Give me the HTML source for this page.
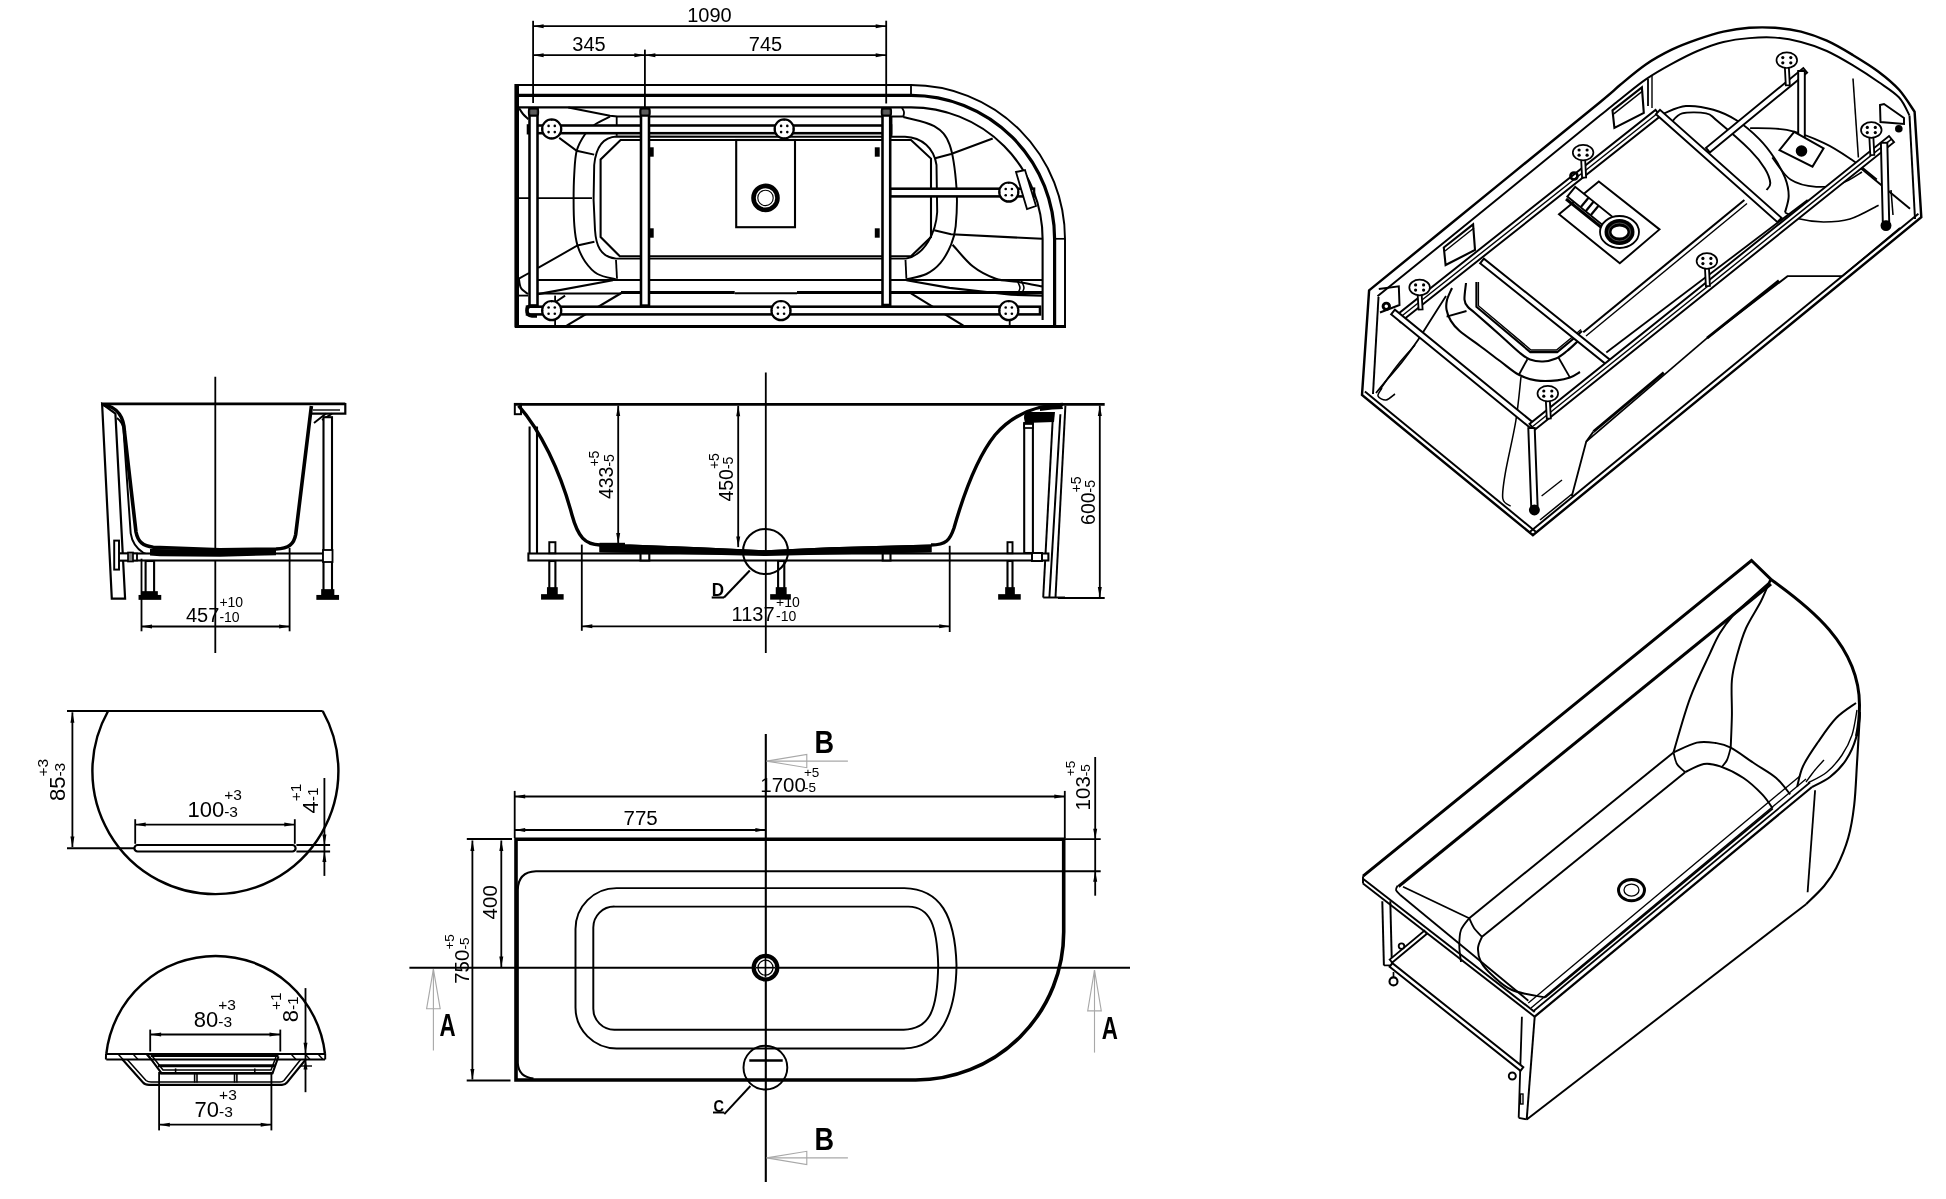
<!DOCTYPE html>
<html><head><meta charset="utf-8"><style>
html,body{margin:0;padding:0;background:#fff;width:1946px;height:1199px;overflow:hidden}
svg{display:block;will-change:transform}
</style></head><body>
<svg width="1946" height="1199" viewBox="0 0 1946 1199">
<rect width="1946" height="1199" fill="#fff"/>
<line x1="533.1" y1="20.8" x2="533.1" y2="103.0" stroke="#000" stroke-width="1.82" />
<line x1="644.9" y1="49.6" x2="644.9" y2="107.0" stroke="#000" stroke-width="1.82" />
<line x1="886.2" y1="20.7" x2="886.2" y2="103.5" stroke="#000" stroke-width="1.82" />
<line x1="533.1" y1="26.2" x2="886.2" y2="26.2" stroke="#000" stroke-width="1.82" />
<polygon points="533.1,26.2 543.6,24.2 543.6,28.2" fill="#000"/>
<polygon points="886.2,26.2 875.7,28.2 875.7,24.2" fill="#000"/>
<line x1="533.1" y1="55.2" x2="644.9" y2="55.2" stroke="#000" stroke-width="1.82" />
<polygon points="533.1,55.2 543.6,53.2 543.6,57.2" fill="#000"/>
<polygon points="644.9,55.2 634.4,57.2 634.4,53.2" fill="#000"/>
<line x1="644.9" y1="55.2" x2="886.2" y2="55.2" stroke="#000" stroke-width="1.82" />
<polygon points="644.9,55.2 655.4,53.2 655.4,57.2" fill="#000"/>
<polygon points="886.2,55.2 875.7,57.2 875.7,53.2" fill="#000"/>
<text x="709.5" y="21.5" font-family="Liberation Sans" font-size="20" font-weight="normal" text-anchor="middle" >1090</text>
<text x="589.0" y="50.6" font-family="Liberation Sans" font-size="20" font-weight="normal" text-anchor="middle" >345</text>
<text x="765.5" y="50.6" font-family="Liberation Sans" font-size="20" font-weight="normal" text-anchor="middle" >745</text>
<path d="M516,85 L911,85 A154,154 0 0 1 1065,239 L1065,326.5" stroke="#000" stroke-width="1.95" fill="none" />
<path d="M516,95.4 L911,95.4 A143.6,143.6 0 0 1 1054.6,239 L1054.6,326.5" stroke="#000" stroke-width="3.2" fill="none" />
<path d="M516,107.4 L911,107.4 A131.6,131.6 0 0 1 1042.6,239 L1042.6,320" stroke="#000" stroke-width="2.1" fill="none" />
<line x1="516.7" y1="84.0" x2="516.7" y2="327.5" stroke="#000" stroke-width="4.6" />
<line x1="515.0" y1="326.5" x2="1066.0" y2="326.5" stroke="#000" stroke-width="3.2" />
<line x1="911.0" y1="85.0" x2="911.0" y2="95.4" stroke="#000" stroke-width="1.82" />
<line x1="1054.5" y1="238.8" x2="1065.0" y2="238.8" stroke="#000" stroke-width="1.68" />
<path d="M610.0,116.7 C607.5,118.0 599.2,121.6 595.0,124.5 C590.8,127.4 588.0,129.8 585.0,134.2 C582.0,138.6 578.5,144.0 576.7,150.8 C574.9,157.6 574.7,166.8 574.2,175.0 C573.7,183.2 573.6,191.5 573.6,200.0 C573.6,208.5 573.8,218.6 574.4,226.2 C575.0,233.8 575.7,239.6 577.5,245.5 C579.3,251.4 581.9,256.9 585.2,261.7 C588.5,266.4 592.4,271.1 597.5,274.0 C602.6,276.9 612.9,278.5 616.0,279.4" stroke="#000" stroke-width="1.95" fill="none" />
<path d="M903.3,117.0 C908.4,118.5 926.5,121.6 934.2,126.2 C941.9,130.8 945.9,134.4 949.6,144.7 C953.3,155.0 955.5,174.3 956.5,187.9 C957.5,201.5 956.6,216.7 955.7,226.2 C954.8,235.7 953.7,238.5 951.1,244.7 C948.5,250.9 944.4,258.3 940.3,263.2 C936.2,268.1 932.0,271.3 926.4,274.0 C920.8,276.7 909.7,278.5 906.4,279.4" stroke="#000" stroke-width="1.95" fill="none" />
<path d="M616.7,136.5 L905,136.8 C922,137.5 934,148 936.5,165 L937.2,212 C936,232 925,255 906,258.6 L616,258.6 C600,257 596,245 595,230 L593.6,200 L594.2,165 C596,146 604,137 616.7,136.5 Z" stroke="#000" stroke-width="1.95" fill="none" />
<path d="M620.6,140 L911,140 L931,158.6 L931,237 L911,256.3 L619.8,256.3 L600.6,237 L600.6,159.4 Z" stroke="#000" stroke-width="2.1" fill="none" />
<path d="M568.3,107.5 L610.0,115.8 L617.5,116.5 L903.0,116.5" stroke="#000" stroke-width="2.1" fill="none" />
<line x1="616.7" y1="116.7" x2="616.7" y2="135.8" stroke="#000" stroke-width="1.82" />
<line x1="891.5" y1="116.7" x2="891.5" y2="136.5" stroke="#000" stroke-width="1.82" />
<path d="M519.2,108.3 C519.8,109.2 521.5,112.2 523.0,114.0 C524.5,115.8 527.4,118.3 528.3,119.2" stroke="#000" stroke-width="1.96" fill="none" />
<path d="M901.8,107.4 C902.2,108.2 903.8,110.4 904.0,112.0 C904.2,113.6 903.4,116.2 903.3,117.0" stroke="#000" stroke-width="1.82" fill="none" />
<path d="M559.2,137.9 L576.7,150.8 L594.2,154.6" stroke="#000" stroke-width="1.95" fill="none" />
<path d="M594.4,241.7 L577.5,245.5 L538.1,267.9" stroke="#000" stroke-width="1.95" fill="none" />
<line x1="518.9" y1="278.7" x2="529.0" y2="273.0" stroke="#000" stroke-width="1.96" />
<path d="M934.2,158.6 L951.1,154.0 L992.7,138.6" stroke="#000" stroke-width="2.1" fill="none" />
<path d="M934.2,230.3 L951.1,234.2 L1042.0,238.8" stroke="#000" stroke-width="2.1" fill="none" />
<path d="M952.6,244.7 C956.0,248.3 965.5,260.6 972.7,266.3 C979.9,272.0 988.3,276.1 995.8,278.7 C1003.2,281.3 1009.7,280.4 1017.4,281.7 C1025.1,283.0 1037.9,285.6 1042.0,286.4" stroke="#000" stroke-width="2.1" fill="none" />
<path d="M906.4,280.2 L949.6,287.9 L1011.2,294.8 L1042.0,295.6" stroke="#000" stroke-width="2.1" fill="none" />
<line x1="612.9" y1="280.2" x2="538.1" y2="294.1" stroke="#000" stroke-width="2.1" />
<path d="M518.9,278.7 C519.2,280.2 519.5,285.4 521.0,288.0 C522.5,290.6 526.9,293.1 528.1,294.1" stroke="#000" stroke-width="1.96" fill="none" />
<line x1="518.9" y1="295.6" x2="528.0" y2="295.6" stroke="#000" stroke-width="1.82" />
<line x1="616.0" y1="260.0" x2="617.0" y2="278.7" stroke="#000" stroke-width="1.82" />
<line x1="905.5" y1="260.0" x2="906.4" y2="278.7" stroke="#000" stroke-width="1.82" />
<line x1="518.9" y1="198.2" x2="592.0" y2="198.2" stroke="#000" stroke-width="1.82" />
<line x1="537.0" y1="279.9" x2="1042.0" y2="279.9" stroke="#000" stroke-width="1.96" />
<line x1="621.0" y1="292.5" x2="734.7" y2="292.5" stroke="#000" stroke-width="3.0" />
<line x1="797.0" y1="292.5" x2="1042.0" y2="292.5" stroke="#000" stroke-width="3.0" />
<line x1="537.0" y1="293.5" x2="621.0" y2="293.5" stroke="#000" stroke-width="1.96" />
<line x1="734.7" y1="293.3" x2="797.0" y2="293.3" stroke="#000" stroke-width="1.96" />
<line x1="555.9" y1="301.8" x2="565.1" y2="295.6" stroke="#000" stroke-width="1.96" />
<line x1="566.7" y1="325.7" x2="622.2" y2="292.5" stroke="#000" stroke-width="2.1" />
<line x1="555.1" y1="295.6" x2="555.1" y2="326.4" stroke="#000" stroke-width="1.82" />
<line x1="911.0" y1="293.3" x2="963.4" y2="325.7" stroke="#000" stroke-width="2.1" />
<line x1="1009.7" y1="318.7" x2="1009.7" y2="326.4" stroke="#000" stroke-width="1.82" />
<path d="M1017.4,281.0 C1017.8,282.2 1020.1,285.8 1020.0,288.0 C1019.9,290.2 1017.5,293.4 1017.0,294.5" stroke="#000" stroke-width="1.54" fill="none" />
<path d="M1021.5,281.0 C1021.9,282.2 1024.1,285.8 1024.0,288.0 C1023.9,290.2 1021.5,293.4 1021.0,294.5" stroke="#000" stroke-width="1.54" fill="none" />
<rect x="736.2" y="140.0" width="58.8" height="87.2" rx="0" stroke="#000" stroke-width="2.1" fill="#fff"/>
<circle cx="765.5" cy="197.9" r="12.0" stroke="#000" stroke-width="4.6" fill="#fff"/>
<circle cx="765.5" cy="197.9" r="7.7" stroke="#000" stroke-width="1.12" fill="none"/>
<rect x="528.0" y="125.5" width="363.0" height="7.7" rx="0" stroke="#000" stroke-width="2.56" fill="#fff"/>
<rect x="890.0" y="188.7" width="144.0" height="7.7" rx="0" stroke="#000" stroke-width="2.56" fill="#fff"/>
<rect x="527.0" y="306.7" width="513.0" height="7.7" rx="0" stroke="#000" stroke-width="2.56" fill="#fff"/>
<rect x="529.5" y="108.5" width="8.0" height="197.5" rx="0" stroke="#000" stroke-width="2.56" fill="#fff"/>
<rect x="641.0" y="108.5" width="8.0" height="197.1" rx="0" stroke="#000" stroke-width="2.56" fill="#fff"/>
<rect x="882.5" y="108.5" width="7.7" height="196.5" rx="0" stroke="#000" stroke-width="2.56" fill="#fff"/>
<rect x="528.7" y="108.3" width="9.6" height="7.5" rx="2.5" stroke="#000" stroke-width="1.68" fill="#333"/>
<line x1="530.5" y1="111.0" x2="536.5" y2="111.0" stroke="#999" stroke-width="0.84" />
<line x1="530.5" y1="113.0" x2="536.5" y2="113.0" stroke="#999" stroke-width="0.84" />
<rect x="640.2" y="108.3" width="9.6" height="7.5" rx="2.5" stroke="#000" stroke-width="1.68" fill="#333"/>
<line x1="642.0" y1="111.0" x2="648.0" y2="111.0" stroke="#999" stroke-width="0.84" />
<line x1="642.0" y1="113.0" x2="648.0" y2="113.0" stroke="#999" stroke-width="0.84" />
<rect x="881.6" y="108.3" width="9.6" height="7.5" rx="2.5" stroke="#000" stroke-width="1.68" fill="#333"/>
<line x1="883.4" y1="111.0" x2="889.4" y2="111.0" stroke="#999" stroke-width="0.84" />
<line x1="883.4" y1="113.0" x2="889.4" y2="113.0" stroke="#999" stroke-width="0.84" />
<rect x="649.5" y="148.0" width="3.5" height="8.0" rx="0" stroke="#000" stroke-width="1.4" fill="#000"/>
<rect x="649.5" y="229.0" width="3.5" height="8.0" rx="0" stroke="#000" stroke-width="1.4" fill="#000"/>
<rect x="875.5" y="148.0" width="3.5" height="8.0" rx="0" stroke="#000" stroke-width="1.4" fill="#000"/>
<rect x="875.5" y="229.0" width="3.5" height="8.0" rx="0" stroke="#000" stroke-width="1.4" fill="#000"/>
<circle cx="551.7" cy="129.0" r="9.6" stroke="#000" stroke-width="2.2" fill="#fff"/>
<circle cx="554.8" cy="132.1" r="1.3" stroke="#000" stroke-width="0" fill="#000"/>
<circle cx="548.6" cy="132.1" r="1.3" stroke="#000" stroke-width="0" fill="#000"/>
<circle cx="548.6" cy="125.9" r="1.3" stroke="#000" stroke-width="0" fill="#000"/>
<circle cx="554.8" cy="125.9" r="1.3" stroke="#000" stroke-width="0" fill="#000"/>
<circle cx="560.8" cy="129.0" r="0.9" stroke="#000" stroke-width="0" fill="#000"/>
<circle cx="551.7" cy="138.1" r="0.9" stroke="#000" stroke-width="0" fill="#000"/>
<circle cx="542.6" cy="129.0" r="0.9" stroke="#000" stroke-width="0" fill="#000"/>
<circle cx="551.7" cy="119.9" r="0.9" stroke="#000" stroke-width="0" fill="#000"/>
<circle cx="784.2" cy="129.0" r="9.6" stroke="#000" stroke-width="2.2" fill="#fff"/>
<circle cx="787.3" cy="132.1" r="1.3" stroke="#000" stroke-width="0" fill="#000"/>
<circle cx="781.1" cy="132.1" r="1.3" stroke="#000" stroke-width="0" fill="#000"/>
<circle cx="781.1" cy="125.9" r="1.3" stroke="#000" stroke-width="0" fill="#000"/>
<circle cx="787.3" cy="125.9" r="1.3" stroke="#000" stroke-width="0" fill="#000"/>
<circle cx="793.3" cy="129.0" r="0.9" stroke="#000" stroke-width="0" fill="#000"/>
<circle cx="784.2" cy="138.1" r="0.9" stroke="#000" stroke-width="0" fill="#000"/>
<circle cx="775.1" cy="129.0" r="0.9" stroke="#000" stroke-width="0" fill="#000"/>
<circle cx="784.2" cy="119.9" r="0.9" stroke="#000" stroke-width="0" fill="#000"/>
<circle cx="551.7" cy="310.6" r="9.6" stroke="#000" stroke-width="2.2" fill="#fff"/>
<circle cx="554.8" cy="313.7" r="1.3" stroke="#000" stroke-width="0" fill="#000"/>
<circle cx="548.6" cy="313.7" r="1.3" stroke="#000" stroke-width="0" fill="#000"/>
<circle cx="548.6" cy="307.5" r="1.3" stroke="#000" stroke-width="0" fill="#000"/>
<circle cx="554.8" cy="307.5" r="1.3" stroke="#000" stroke-width="0" fill="#000"/>
<circle cx="560.8" cy="310.6" r="0.9" stroke="#000" stroke-width="0" fill="#000"/>
<circle cx="551.7" cy="319.7" r="0.9" stroke="#000" stroke-width="0" fill="#000"/>
<circle cx="542.6" cy="310.6" r="0.9" stroke="#000" stroke-width="0" fill="#000"/>
<circle cx="551.7" cy="301.5" r="0.9" stroke="#000" stroke-width="0" fill="#000"/>
<circle cx="781.0" cy="310.6" r="9.6" stroke="#000" stroke-width="2.2" fill="#fff"/>
<circle cx="784.1" cy="313.7" r="1.3" stroke="#000" stroke-width="0" fill="#000"/>
<circle cx="777.9" cy="313.7" r="1.3" stroke="#000" stroke-width="0" fill="#000"/>
<circle cx="777.9" cy="307.5" r="1.3" stroke="#000" stroke-width="0" fill="#000"/>
<circle cx="784.1" cy="307.5" r="1.3" stroke="#000" stroke-width="0" fill="#000"/>
<circle cx="790.1" cy="310.6" r="0.9" stroke="#000" stroke-width="0" fill="#000"/>
<circle cx="781.0" cy="319.7" r="0.9" stroke="#000" stroke-width="0" fill="#000"/>
<circle cx="771.9" cy="310.6" r="0.9" stroke="#000" stroke-width="0" fill="#000"/>
<circle cx="781.0" cy="301.5" r="0.9" stroke="#000" stroke-width="0" fill="#000"/>
<circle cx="1008.8" cy="310.6" r="9.6" stroke="#000" stroke-width="2.2" fill="#fff"/>
<circle cx="1011.9" cy="313.7" r="1.3" stroke="#000" stroke-width="0" fill="#000"/>
<circle cx="1005.7" cy="313.7" r="1.3" stroke="#000" stroke-width="0" fill="#000"/>
<circle cx="1005.7" cy="307.5" r="1.3" stroke="#000" stroke-width="0" fill="#000"/>
<circle cx="1011.9" cy="307.5" r="1.3" stroke="#000" stroke-width="0" fill="#000"/>
<circle cx="1017.9" cy="310.6" r="0.9" stroke="#000" stroke-width="0" fill="#000"/>
<circle cx="1008.8" cy="319.7" r="0.9" stroke="#000" stroke-width="0" fill="#000"/>
<circle cx="999.7" cy="310.6" r="0.9" stroke="#000" stroke-width="0" fill="#000"/>
<circle cx="1008.8" cy="301.5" r="0.9" stroke="#000" stroke-width="0" fill="#000"/>
<circle cx="1008.8" cy="192.1" r="9.6" stroke="#000" stroke-width="2.2" fill="#fff"/>
<circle cx="1011.9" cy="195.2" r="1.3" stroke="#000" stroke-width="0" fill="#000"/>
<circle cx="1005.7" cy="195.2" r="1.3" stroke="#000" stroke-width="0" fill="#000"/>
<circle cx="1005.7" cy="189.0" r="1.3" stroke="#000" stroke-width="0" fill="#000"/>
<circle cx="1011.9" cy="189.0" r="1.3" stroke="#000" stroke-width="0" fill="#000"/>
<circle cx="1017.9" cy="192.1" r="0.9" stroke="#000" stroke-width="0" fill="#000"/>
<circle cx="1008.8" cy="201.2" r="0.9" stroke="#000" stroke-width="0" fill="#000"/>
<circle cx="999.7" cy="192.1" r="0.9" stroke="#000" stroke-width="0" fill="#000"/>
<circle cx="1008.8" cy="183.0" r="0.9" stroke="#000" stroke-width="0" fill="#000"/>
<path d="M1016,172 L1025,170 L1036,206 L1027,209 Z" stroke="#000" stroke-width="1.82" fill="#fff" />
<path d="M537,306 L531,306 Q527,306 527,310.5 Q527,315.5 532,316 L537,316" stroke="#000" stroke-width="3.6" fill="none" />
<line x1="215.3" y1="376.8" x2="215.3" y2="653.0" stroke="#000" stroke-width="1.82" />
<line x1="102.0" y1="403.9" x2="345.3" y2="403.9" stroke="#000" stroke-width="2.68" />
<path d="M311.4,404 L345.3,404 L345.3,413.6 L311.4,413.6" stroke="#000" stroke-width="2.2" fill="none" />
<path d="M313,410 L340,410" stroke="#000" stroke-width="1.4" fill="none" />
<path d="M314,423 L326,413.6 M322,420 L332,413.6" stroke="#000" stroke-width="1.96" fill="none" />
<path d="M102.1,403.9 L111.8,598.6 L125.1,598.6 L115.4,413.6 Z" stroke="#000" stroke-width="2.2" fill="none" />
<path d="M104,405 C118,407 124,418 124.5,432 L136,532 C138,542 143,546 153.3,547.3 L220,549.7 L276,549 C289,548.5 294,544 295.7,534.5 L311.4,406" stroke="#000" stroke-width="3.6" fill="none" />
<path d="M117,418 C121,421 123,424 123.5,430 L130.7,533.3 C132,542 136,548 143.3,552.7 C146,554.5 149,555 152,555" stroke="#000" stroke-width="1.95" fill="none" />
<path d="M150,549 L220,550.5 L276,549.5 L276,555.2 L220,556.8 L160,556.2 L150,555.5 Z" fill="#000"/>
<rect x="119.0" y="553.5" width="210.5" height="7.0" rx="0" stroke="#000" stroke-width="2.07" fill="#fff"/>
<path d="M150,549 L220,550.5 L276,549.5 L276,555.2 L220,556.8 L160,556.2 L150,555.5 Z" fill="#000"/>
<rect x="117.0" y="553.5" width="20.0" height="7.0" rx="0" stroke="#000" stroke-width="1.82" fill="#fff"/>
<rect x="128.0" y="552.5" width="5.0" height="9.0" rx="0" stroke="#000" stroke-width="1.68" fill="#888"/>
<rect x="145.6" y="561.0" width="8.5" height="35.2" rx="0" stroke="#000" stroke-width="2.1" fill="#fff"/>
<rect x="139.6" y="596.0" width="20.6" height="2.8" rx="0" stroke="#000" stroke-width="2.1" fill="#000"/>
<rect x="142.5" y="592.0" width="14.5" height="4.0" rx="0" stroke="#000" stroke-width="1.68" fill="#000"/>
<rect x="323.5" y="417.2" width="8.5" height="179.0" rx="0" stroke="#000" stroke-width="2.1" fill="#fff"/>
<rect x="317.4" y="596.0" width="20.6" height="2.8" rx="0" stroke="#000" stroke-width="2.1" fill="#000"/>
<rect x="322.0" y="590.0" width="11.5" height="5.0" rx="0" stroke="#000" stroke-width="1.68" fill="#000"/>
<rect x="323.0" y="550.0" width="9.5" height="12.0" rx="0" stroke="#000" stroke-width="1.82" fill="#fff"/>
<rect x="114.2" y="540.6" width="4.8" height="29.0" rx="0" stroke="#000" stroke-width="1.96" fill="#fff"/>
<line x1="141.5" y1="558.7" x2="141.5" y2="631.3" stroke="#000" stroke-width="1.82" />
<line x1="289.6" y1="547.8" x2="289.6" y2="631.3" stroke="#000" stroke-width="1.82" />
<line x1="141.5" y1="626.5" x2="289.6" y2="626.5" stroke="#000" stroke-width="1.82" />
<polygon points="141.5,626.5 152.0,624.5 152.0,628.5" fill="#000"/>
<polygon points="289.6,626.5 279.1,628.5 279.1,624.5" fill="#000"/>
<g><text x="186.0" y="621.6" font-family="Liberation Sans" font-size="20">457</text><text x="219.4" y="606.6" font-family="Liberation Sans" font-size="14">+10</text><text x="219.4" y="621.6" font-family="Liberation Sans" font-size="14">-10</text></g>
<line x1="765.8" y1="372.4" x2="765.8" y2="652.9" stroke="#000" stroke-width="1.82" />
<line x1="514.8" y1="404.4" x2="1104.7" y2="404.4" stroke="#000" stroke-width="2.56" />
<rect x="514.8" y="403.9" width="6.2" height="10.3" rx="0" stroke="#000" stroke-width="1.95" fill="none"/>
<path d="M518.5,405.6 C540,430 560,470 572,515 C578,537 585,544.5 600,545" stroke="#000" stroke-width="3.4" fill="none" />
<path d="M599.5,544.4 L630,544.6 L700,547.3 L766,550.3 L830,547.3 L931.5,544.4 L931.5,552.2 L830,554.6 L766,556.1 L700,554.6 L630,552.8 L599.5,552.2 Z" fill="#000"/>
<line x1="599.5" y1="544.0" x2="625.0" y2="544.0" stroke="#000" stroke-width="2.44" />
<path d="M931,545 C946,545 950,540 954,528 C962,500 975,460 995,435 C1015,412 1040,405 1062.9,404.4" stroke="#000" stroke-width="3.4" fill="none" />
<path d="M1026,412 Q1024,414 1024,418 L1025,423 L1054,422 L1055,412 Z" fill="#000"/>
<path d="M1040,406 Q1050,404 1062,404.5 L1063,409 L1052,409.5 L1040,411 Z" fill="#000"/>
<line x1="1065.4" y1="405.6" x2="1055.5" y2="597.5" stroke="#000" stroke-width="1.95" />
<line x1="1060.4" y1="414.2" x2="1049.4" y2="597.5" stroke="#000" stroke-width="1.96" />
<line x1="1053.0" y1="414.0" x2="1043.2" y2="597.5" stroke="#000" stroke-width="1.96" />
<line x1="1043.2" y1="597.5" x2="1065.0" y2="597.5" stroke="#000" stroke-width="1.95" />
<line x1="529.6" y1="426.5" x2="529.6" y2="560.6" stroke="#000" stroke-width="2.1" />
<line x1="537.0" y1="426.5" x2="537.0" y2="556.0" stroke="#000" stroke-width="2.1" />
<rect x="528.4" y="553.5" width="520.0" height="7.0" rx="0" stroke="#000" stroke-width="2.07" fill="#fff"/>
<rect x="549.3" y="561.0" width="6.1" height="34.0" rx="0" stroke="#000" stroke-width="2.1" fill="#fff"/>
<rect x="541.9" y="595.0" width="20.9" height="3.8" rx="0" stroke="#000" stroke-width="1.68" fill="#000"/>
<rect x="547.8" y="588.0" width="9.1" height="7.0" rx="0" stroke="#000" stroke-width="1.68" fill="#000"/>
<rect x="549.3" y="542.2" width="6.1" height="11.0" rx="0" stroke="#000" stroke-width="1.96" fill="#fff"/>
<rect x="778.1" y="561.0" width="6.2" height="34.0" rx="0" stroke="#000" stroke-width="2.1" fill="#fff"/>
<rect x="771.0" y="595.0" width="19.0" height="3.8" rx="0" stroke="#000" stroke-width="1.68" fill="#000"/>
<rect x="776.6" y="588.0" width="9.2" height="7.0" rx="0" stroke="#000" stroke-width="1.68" fill="#000"/>
<rect x="1007.5" y="561.0" width="5.0" height="34.0" rx="0" stroke="#000" stroke-width="2.1" fill="#fff"/>
<rect x="999.0" y="595.0" width="20.9" height="3.8" rx="0" stroke="#000" stroke-width="1.68" fill="#000"/>
<rect x="1006.0" y="588.0" width="8.0" height="7.0" rx="0" stroke="#000" stroke-width="1.68" fill="#000"/>
<rect x="1007.5" y="542.2" width="5.0" height="11.0" rx="0" stroke="#000" stroke-width="1.96" fill="#fff"/>
<rect x="1024.2" y="423.0" width="8.7" height="130.0" rx="0" stroke="#000" stroke-width="2.07" fill="#fff"/>
<rect x="1024.2" y="424.0" width="8.7" height="4.0" rx="0" stroke="#000" stroke-width="1.68" fill="#fff"/>
<rect x="640.5" y="553.5" width="8.8" height="7.0" rx="0" stroke="#000" stroke-width="2.1" fill="#fff"/>
<rect x="882.7" y="553.5" width="7.8" height="7.0" rx="0" stroke="#000" stroke-width="2.1" fill="#fff"/>
<rect x="1032.0" y="553.0" width="10.0" height="8.0" rx="0" stroke="#000" stroke-width="1.96" fill="#fff"/>
<path d="M599.5,544.4 L630,544.6 L700,547.3 L766,550.3 L830,547.3 L931.5,544.4 L931.5,552.2 L830,554.6 L766,556.1 L700,554.6 L630,552.8 L599.5,552.2 Z" fill="#000"/>
<line x1="618.2" y1="405.6" x2="618.2" y2="543.4" stroke="#000" stroke-width="1.82" />
<polygon points="618.2,405.6 620.2,416.1 616.2,416.1" fill="#000"/>
<polygon points="618.2,543.4 616.2,532.9 620.2,532.9" fill="#000"/>
<line x1="738.2" y1="405.8" x2="738.2" y2="547.1" stroke="#000" stroke-width="1.82" />
<polygon points="738.2,405.8 740.2,416.3 736.2,416.3" fill="#000"/>
<polygon points="738.2,547.1 736.2,536.6 740.2,536.6" fill="#000"/>
<line x1="1099.8" y1="405.6" x2="1099.8" y2="597.5" stroke="#000" stroke-width="1.82" />
<polygon points="1099.8,405.6 1101.8,416.1 1097.8,416.1" fill="#000"/>
<polygon points="1099.8,597.5 1097.8,587.0 1101.8,587.0" fill="#000"/>
<line x1="1058.0" y1="598.0" x2="1104.7" y2="598.0" stroke="#000" stroke-width="1.82" />
<line x1="581.8" y1="544.6" x2="581.8" y2="630.8" stroke="#000" stroke-width="1.82" />
<line x1="949.7" y1="545.8" x2="949.7" y2="632.0" stroke="#000" stroke-width="1.82" />
<line x1="581.8" y1="626.3" x2="949.7" y2="626.3" stroke="#000" stroke-width="1.82" />
<polygon points="581.8,626.3 592.3,624.3 592.3,628.3" fill="#000"/>
<polygon points="949.7,626.3 939.2,628.3 939.2,624.3" fill="#000"/>
<g transform="rotate(-90 613.3 499.1)"><text x="613.3" y="499.1" font-family="Liberation Sans" font-size="19.5">433</text><text x="645.8" y="485.1" font-family="Liberation Sans" font-size="14">+5</text><text x="645.8" y="499.6" font-family="Liberation Sans" font-size="14">-5</text></g>
<g transform="rotate(-90 732.6 501.6)"><text x="732.6" y="501.6" font-family="Liberation Sans" font-size="19.5">450</text><text x="765.1" y="487.6" font-family="Liberation Sans" font-size="14">+5</text><text x="765.1" y="502.1" font-family="Liberation Sans" font-size="14">-5</text></g>
<g transform="rotate(-90 1095.0 524.9)"><text x="1095.0" y="524.9" font-family="Liberation Sans" font-size="19.5">600</text><text x="1127.5" y="510.9" font-family="Liberation Sans" font-size="14">+5</text><text x="1127.5" y="525.4" font-family="Liberation Sans" font-size="14">-5</text></g>
<g><text x="731.5" y="620.9" font-family="Liberation Sans" font-size="20">1137</text><text x="776.0" y="606.9" font-family="Liberation Sans" font-size="14">+10</text><text x="776.0" y="620.9" font-family="Liberation Sans" font-size="14">-10</text></g>
<circle cx="765.5" cy="551.5" r="22.5" stroke="#000" stroke-width="2.07" fill="none"/>
<line x1="749.8" y1="570.5" x2="724.0" y2="597.5" stroke="#000" stroke-width="2.1" />
<line x1="711.7" y1="597.5" x2="724.0" y2="597.5" stroke="#000" stroke-width="2.1" />
<text x="0" y="0" font-family="Liberation Sans" font-size="18.5" font-weight="bold" transform="translate(711.7 596.3) scale(0.92 1)">D</text>
<line x1="67.0" y1="711.0" x2="322.7" y2="711.0" stroke="#000" stroke-width="2.2" />
<path d="M108.1,711 A123,123 0 1 0 322.7,711" stroke="#000" stroke-width="2.44" fill="none" />
<line x1="72.4" y1="712.3" x2="72.4" y2="847.1" stroke="#000" stroke-width="1.82" />
<polygon points="72.4,712.3 74.4,722.8 70.4,722.8" fill="#000"/>
<polygon points="72.4,847.1 70.4,836.6 74.4,836.6" fill="#000"/>
<line x1="67.0" y1="848.3" x2="134.4" y2="848.3" stroke="#000" stroke-width="1.95" />
<rect x="134.4" y="845.0" width="161.2" height="6.5" rx="3.2" stroke="#000" stroke-width="2.2" fill="none"/>
<line x1="296.4" y1="845.0" x2="330.1" y2="845.0" stroke="#000" stroke-width="2.1" />
<line x1="296.4" y1="851.5" x2="330.1" y2="851.5" stroke="#000" stroke-width="2.1" />
<line x1="135.2" y1="819.2" x2="135.2" y2="843.8" stroke="#000" stroke-width="1.82" />
<line x1="294.8" y1="819.2" x2="294.8" y2="843.8" stroke="#000" stroke-width="1.82" />
<line x1="135.2" y1="824.6" x2="294.8" y2="824.6" stroke="#000" stroke-width="1.82" />
<polygon points="135.2,824.6 145.7,822.6 145.7,826.6" fill="#000"/>
<polygon points="294.8,824.6 284.3,826.6 284.3,822.6" fill="#000"/>
<line x1="324.4" y1="778.0" x2="324.4" y2="875.9" stroke="#000" stroke-width="1.82" />
<polygon points="324.4,845.0 322.4,834.5 326.4,834.5" fill="#000"/>
<polygon points="324.4,851.5 326.4,862.0 322.4,862.0" fill="#000"/>
<g><text x="187.5" y="817.0" font-family="Liberation Sans" font-size="22">100</text><text x="224.2" y="800.0" font-family="Liberation Sans" font-size="15.5">+3</text><text x="224.2" y="817.0" font-family="Liberation Sans" font-size="15.5">-3</text></g>
<g transform="rotate(-90 65.4 801.1)"><text x="65.4" y="801.1" font-family="Liberation Sans" font-size="22">85</text><text x="89.9" y="784.1" font-family="Liberation Sans" font-size="15.5">+3</text><text x="89.9" y="801.1" font-family="Liberation Sans" font-size="15.5">-3</text></g>
<g transform="rotate(-90 317.8 813.4)"><text x="317.8" y="813.4" font-family="Liberation Sans" font-size="22">4</text><text x="330.0" y="796.4" font-family="Liberation Sans" font-size="15.5">+1</text><text x="330.0" y="813.4" font-family="Liberation Sans" font-size="15.5">-1</text></g>
<path d="M106.3,1054 A110,110 0 0 1 325,1054" stroke="#000" stroke-width="2.44" fill="none" />
<line x1="106.3" y1="1054.0" x2="325.0" y2="1054.0" stroke="#000" stroke-width="2.2" />
<line x1="106.3" y1="1059.5" x2="325.0" y2="1059.5" stroke="#000" stroke-width="2.2" />
<line x1="106.0" y1="1054.0" x2="105.9" y2="1059.5" stroke="#000" stroke-width="1.95" />
<line x1="325.2" y1="1054.0" x2="325.2" y2="1059.5" stroke="#000" stroke-width="1.95" />
<line x1="118.0" y1="1054.0" x2="123.0" y2="1059.5" stroke="#000" stroke-width="1.4" />
<line x1="133.0" y1="1054.0" x2="138.0" y2="1059.5" stroke="#000" stroke-width="1.4" />
<line x1="146.0" y1="1054.0" x2="151.0" y2="1059.5" stroke="#000" stroke-width="1.4" />
<line x1="291.0" y1="1054.0" x2="296.0" y2="1059.5" stroke="#000" stroke-width="1.4" />
<line x1="305.0" y1="1054.0" x2="310.0" y2="1059.5" stroke="#000" stroke-width="1.4" />
<line x1="318.0" y1="1054.0" x2="323.0" y2="1059.5" stroke="#000" stroke-width="1.4" />
<path d="M122.5,1059.5 L143,1082.5 Q145,1084.9 149,1084.9 L282,1084.9 Q285,1084.9 287,1082.5 L305.7,1059.5" stroke="#000" stroke-width="2.07" fill="none" />
<path d="M127.2,1059.5 L146,1080.5 Q148,1082 151,1082 L280,1082 Q282.5,1082 284,1080.5 L300.7,1059.5" stroke="#000" stroke-width="1.54" fill="none" />
<path d="M147.3,1054.2 L161.5,1073.1 L272.6,1073.1 L278.5,1056.5" stroke="#000" stroke-width="2.07" fill="none" />
<path d="M150.8,1054.2 L163,1070 L271,1070 L276,1057" stroke="#000" stroke-width="1.54" fill="none" />
<line x1="150.8" y1="1055.6" x2="278.5" y2="1055.6" stroke="#000" stroke-width="3.0" />
<line x1="157.9" y1="1065.7" x2="274.9" y2="1065.7" stroke="#000" stroke-width="2.93" />
<line x1="175.6" y1="1068.4" x2="175.6" y2="1073.1" stroke="#000" stroke-width="1.54" />
<line x1="254.8" y1="1068.4" x2="254.8" y2="1073.1" stroke="#000" stroke-width="1.54" />
<line x1="159.0" y1="1073.7" x2="272.6" y2="1073.7" stroke="#000" stroke-width="1.54" />
<line x1="194.6" y1="1073.7" x2="194.6" y2="1082.6" stroke="#000" stroke-width="1.54" />
<line x1="197.0" y1="1073.7" x2="197.0" y2="1082.6" stroke="#000" stroke-width="1.54" />
<line x1="234.5" y1="1073.7" x2="234.5" y2="1082.6" stroke="#000" stroke-width="1.54" />
<line x1="236.9" y1="1073.7" x2="236.9" y2="1082.6" stroke="#000" stroke-width="1.54" />
<line x1="150.2" y1="1029.6" x2="150.2" y2="1051.5" stroke="#000" stroke-width="1.82" />
<line x1="280.3" y1="1029.6" x2="280.3" y2="1051.5" stroke="#000" stroke-width="1.82" />
<line x1="150.6" y1="1034.5" x2="280.0" y2="1034.5" stroke="#000" stroke-width="1.82" />
<polygon points="150.6,1034.5 161.1,1032.5 161.1,1036.5" fill="#000"/>
<polygon points="280.0,1034.5 269.5,1036.5 269.5,1032.5" fill="#000"/>
<line x1="159.1" y1="1071.9" x2="159.1" y2="1130.4" stroke="#000" stroke-width="1.82" />
<line x1="271.4" y1="1071.9" x2="271.4" y2="1130.4" stroke="#000" stroke-width="1.82" />
<line x1="159.3" y1="1124.7" x2="271.2" y2="1124.7" stroke="#000" stroke-width="1.82" />
<polygon points="159.3,1124.7 169.8,1122.7 169.8,1126.7" fill="#000"/>
<polygon points="271.2,1124.7 260.7,1126.7 260.7,1122.7" fill="#000"/>
<line x1="305.5" y1="988.1" x2="305.5" y2="1092.2" stroke="#000" stroke-width="1.82" />
<polygon points="305.5,1053.2 303.5,1042.7 307.5,1042.7" fill="#000"/>
<polygon points="305.5,1058.9 307.5,1069.4 303.5,1069.4" fill="#000"/>
<line x1="300.0" y1="1066.0" x2="312.0" y2="1066.0" stroke="#000" stroke-width="1.4" />
<g><text x="193.8" y="1027.1" font-family="Liberation Sans" font-size="22">80</text><text x="218.3" y="1010.1" font-family="Liberation Sans" font-size="15.5">+3</text><text x="218.3" y="1027.1" font-family="Liberation Sans" font-size="15.5">-3</text></g>
<g><text x="194.6" y="1117.4" font-family="Liberation Sans" font-size="22">70</text><text x="219.1" y="1100.4" font-family="Liberation Sans" font-size="15.5">+3</text><text x="219.1" y="1117.4" font-family="Liberation Sans" font-size="15.5">-3</text></g>
<g transform="rotate(-90 298.2 1022.3)"><text x="298.2" y="1022.3" font-family="Liberation Sans" font-size="22">8</text><text x="310.4" y="1005.3" font-family="Liberation Sans" font-size="15.5">+1</text><text x="310.4" y="1022.3" font-family="Liberation Sans" font-size="15.5">-1</text></g>
<line x1="765.8" y1="734.0" x2="765.8" y2="1182.0" stroke="#000" stroke-width="2.1" />
<line x1="409.4" y1="967.7" x2="1130.0" y2="967.7" stroke="#000" stroke-width="2.1" />
<path d="M516,839.2 L1063.7,839.2 L1063.7,932 A148,148 0 0 1 915.5,1080 L516,1080 Z" stroke="#000" stroke-width="3.6" fill="none" />
<path d="M1100.7,871.3 L536,871.3 Q518,872 517.8,890 L517.8,1063 Q518.5,1077 533.5,1078.5" stroke="#000" stroke-width="2.1" fill="none" />
<path d="M616.5,888.1 L904.4,888.1 C940,889 955,915 956.5,965 C956,1015 940,1047 904.8,1048.4 L616.5,1048.4 A41,41 0 0 1 575.5,1007.4 L575.5,929.1 A41,41 0 0 1 616.5,888.1 Z" stroke="#000" stroke-width="1.95" fill="none" />
<path d="M614.5,906.6 L908.5,906.6 C930,907 937,925 938.2,965 C937.5,1010 930,1029 903.7,1029.7 L614.5,1029.7 A21,21 0 0 1 593.3,1008.7 L593.3,927.6 A21,21 0 0 1 614.5,906.6 Z" stroke="#000" stroke-width="1.95" fill="none" />
<circle cx="765.5" cy="967.7" r="11.8" stroke="#000" stroke-width="4.2" fill="#fff"/>
<circle cx="765.5" cy="967.7" r="7.5" stroke="#000" stroke-width="1.26" fill="none"/>
<line x1="765.5" y1="958.0" x2="765.5" y2="977.5" stroke="#000" stroke-width="1.68" />
<line x1="756.0" y1="967.7" x2="775.0" y2="967.7" stroke="#000" stroke-width="1.68" />
<circle cx="765.4" cy="1067.6" r="21.9" stroke="#000" stroke-width="1.95" fill="none"/>
<line x1="749.3" y1="1060.5" x2="782.7" y2="1060.5" stroke="#000" stroke-width="2.44" />
<line x1="750.4" y1="1086.0" x2="724.3" y2="1114.1" stroke="#000" stroke-width="1.95" />
<line x1="713.0" y1="1112.5" x2="724.3" y2="1112.5" stroke="#000" stroke-width="1.95" />
<text x="0" y="0" font-family="Liberation Sans" font-size="17" font-weight="bold" transform="translate(713.5 1112.0) scale(0.85 1)">C</text>
<line x1="514.7" y1="790.9" x2="514.7" y2="838.0" stroke="#000" stroke-width="1.82" />
<line x1="1064.8" y1="790.9" x2="1064.8" y2="838.0" stroke="#000" stroke-width="1.82" />
<line x1="514.7" y1="830.0" x2="765.9" y2="830.0" stroke="#000" stroke-width="1.82" />
<polygon points="514.7,830.0 525.2,828.0 525.2,832.0" fill="#000"/>
<polygon points="765.9,830.0 755.4,832.0 755.4,828.0" fill="#000"/>
<line x1="514.7" y1="796.5" x2="1064.8" y2="796.5" stroke="#000" stroke-width="1.82" />
<polygon points="514.7,796.5 525.2,794.5 525.2,798.5" fill="#000"/>
<polygon points="1064.8,796.5 1054.3,798.5 1054.3,794.5" fill="#000"/>
<text x="623.5" y="825.2" font-family="Liberation Sans" font-size="20.5" font-weight="normal" text-anchor="start" >775</text>
<g><text x="760.3" y="792.0" font-family="Liberation Sans" font-size="20.5">1700</text><text x="803.9" y="777.0" font-family="Liberation Sans" font-size="13.5">+5</text><text x="803.9" y="792.0" font-family="Liberation Sans" font-size="13.5">-5</text></g>
<line x1="466.8" y1="839.0" x2="512.0" y2="839.0" stroke="#000" stroke-width="1.82" />
<line x1="466.7" y1="1080.5" x2="510.5" y2="1080.5" stroke="#000" stroke-width="1.82" />
<line x1="472.4" y1="840.5" x2="472.4" y2="1079.5" stroke="#000" stroke-width="1.82" />
<polygon points="472.4,840.5 474.4,851.0 470.4,851.0" fill="#000"/>
<polygon points="472.4,1079.5 470.4,1069.0 474.4,1069.0" fill="#000"/>
<line x1="501.3" y1="840.5" x2="501.3" y2="967.0" stroke="#000" stroke-width="1.82" />
<polygon points="501.3,840.5 503.3,851.0 499.3,851.0" fill="#000"/>
<polygon points="501.3,967.0 499.3,956.5 503.3,956.5" fill="#000"/>
<text x="496.6" y="919.4" font-family="Liberation Sans" font-size="20.5" font-weight="normal" text-anchor="start" transform="rotate(-90 496.6 919.4)" >400</text>
<g transform="rotate(-90 468.8 983.8)"><text x="468.8" y="983.8" font-family="Liberation Sans" font-size="20.5">750</text><text x="503.0" y="968.8" font-family="Liberation Sans" font-size="13.5">+5</text><text x="503.0" y="983.8" font-family="Liberation Sans" font-size="13.5">-5</text></g>
<line x1="1063.0" y1="839.2" x2="1100.7" y2="839.2" stroke="#000" stroke-width="1.82" />
<line x1="1095.2" y1="757.0" x2="1095.2" y2="895.7" stroke="#000" stroke-width="1.82" />
<polygon points="1095.2,839.2 1093.2,828.7 1097.2,828.7" fill="#000"/>
<polygon points="1095.2,871.3 1097.2,881.8 1093.2,881.8" fill="#000"/>
<g transform="rotate(-90 1090.5 810.4)"><text x="1090.5" y="810.4" font-family="Liberation Sans" font-size="20.5">103</text><text x="1124.7" y="795.4" font-family="Liberation Sans" font-size="13.5">+5</text><text x="1124.7" y="810.4" font-family="Liberation Sans" font-size="13.5">-5</text></g>
<text x="0" y="0" font-family="Liberation Sans" font-size="31.5" font-weight="bold" transform="translate(814.5 752.9) scale(0.86 1)">B</text>
<text x="0" y="0" font-family="Liberation Sans" font-size="31.5" font-weight="bold" transform="translate(814.5 1149.6) scale(0.86 1)">B</text>
<line x1="766.7" y1="761.1" x2="847.9" y2="761.1" stroke="#a8a8a8" stroke-width="1.12" />
<path d="M766.7,761.1 L806.8,754.5 L806.8,767.7 Z" stroke="#a8a8a8" stroke-width="1.12" fill="none" />
<line x1="766.7" y1="1157.9" x2="847.9" y2="1157.9" stroke="#a8a8a8" stroke-width="1.12" />
<path d="M766.7,1157.9 L806.8,1151.3000000000002 L806.8,1164.5 Z" stroke="#a8a8a8" stroke-width="1.12" fill="none" />
<text x="0" y="0" font-family="Liberation Sans" font-size="31" font-weight="bold" transform="translate(439.6 1036.3) scale(0.72 1)">A</text>
<text x="0" y="0" font-family="Liberation Sans" font-size="31" font-weight="bold" transform="translate(1101.8 1039.1) scale(0.72 1)">A</text>
<line x1="433.4" y1="969.2" x2="433.4" y2="1050.5" stroke="#a8a8a8" stroke-width="1.12" />
<path d="M433.4,969.2 L426.59999999999997,1008.8 L440.2,1008.8 Z" stroke="#a8a8a8" stroke-width="1.12" fill="none" />
<line x1="1094.5" y1="970.2" x2="1094.5" y2="1052.6" stroke="#a8a8a8" stroke-width="1.12" />
<path d="M1094.5,970.2 L1087.7,1010.9 L1101.3,1010.9 Z" stroke="#a8a8a8" stroke-width="1.12" fill="none" />
<path d="M1369.1,290.4 C1390.9,272.6 1461.5,215.0 1500.0,183.6 C1538.5,152.2 1580.0,118.6 1600.0,102.2 C1620.0,85.8 1612.4,91.3 1620.0,85.0 C1627.6,78.7 1637.2,70.4 1645.8,64.5 C1654.4,58.6 1663.1,53.9 1671.7,49.7 C1680.3,45.5 1688.9,42.4 1697.5,39.4 C1706.1,36.4 1714.8,33.5 1723.4,31.6 C1732.0,29.7 1740.6,28.4 1749.2,27.8 C1757.8,27.2 1766.5,27.2 1775.1,27.8 C1783.7,28.4 1792.4,29.5 1801.0,31.6 C1809.6,33.8 1818.2,36.8 1826.8,40.7 C1835.4,44.6 1844.0,49.7 1852.6,54.9 C1861.2,60.1 1870.8,65.9 1878.5,71.7 C1886.2,77.5 1893.1,83.1 1899.1,89.8 C1905.1,96.5 1912.0,108.1 1914.6,111.8 L1921.3,217.3 L1532.9,535.2 L1362.0,395.0 Z" stroke="#000" stroke-width="2.44" fill="none" />
<path d="M1377.5,296.3 C1397.9,279.8 1462.9,227.1 1500.0,197.0 C1537.1,166.9 1580.0,131.8 1600.0,115.6 C1620.0,99.3 1612.4,105.5 1620.0,99.5 C1627.6,93.5 1637.2,85.3 1645.8,79.4 C1654.4,73.5 1663.1,68.6 1671.7,63.9 C1680.3,59.2 1688.9,54.6 1697.5,51.0 C1706.1,47.4 1714.8,44.1 1723.4,42.0 C1732.0,39.9 1740.6,38.8 1749.2,38.1 C1757.8,37.4 1766.5,37.0 1775.1,37.6 C1783.7,38.2 1792.4,39.8 1801.0,42.0 C1809.6,44.2 1818.2,47.1 1826.8,51.0 C1835.4,54.9 1844.0,60.0 1852.6,65.2 C1861.2,70.4 1870.8,76.6 1878.5,82.0 C1886.2,87.4 1893.9,91.9 1899.1,97.5 C1904.3,103.1 1907.8,112.6 1909.5,115.6" stroke="#000" stroke-width="1.95" fill="none" />
<line x1="1648.0" y1="79.0" x2="1648.0" y2="106.0" stroke="#000" stroke-width="1.82" />
<line x1="1652.0" y1="76.0" x2="1652.0" y2="108.0" stroke="#000" stroke-width="1.4" />
<line x1="1909.5" y1="115.6" x2="1915.0" y2="219.0" stroke="#000" stroke-width="1.95" />
<path d="M1880.0,105.0 L1884.0,104.0 L1904.0,118.0 L1904.0,124.0 L1880.5,122.0 Z" stroke="#000" stroke-width="1.96" fill="#fff" />
<line x1="1853.0" y1="78.5" x2="1858.4" y2="157.5" stroke="#000" stroke-width="1.54" />
<line x1="1860.0" y1="167.5" x2="1910.0" y2="208.8" stroke="#000" stroke-width="1.96" />
<line x1="1891.0" y1="190.0" x2="1893.0" y2="215.0" stroke="#000" stroke-width="1.54" />
<line x1="1378.5" y1="297.0" x2="1373.0" y2="394.0" stroke="#000" stroke-width="1.95" />
<path d="M1378.8,289.0 L1398.8,286.3 L1399.5,305.0 L1380.0,312.5" stroke="#000" stroke-width="1.96" fill="none" />
<circle cx="1386.3" cy="306.3" r="3.2" stroke="#000" stroke-width="2.93" fill="none"/>
<line x1="1364.9" y1="391.5" x2="1535.8" y2="531.7" stroke="#000" stroke-width="1.96" />
<line x1="1530.0" y1="531.7" x2="1918.4" y2="213.8" stroke="#000" stroke-width="1.96" />
<line x1="1583.3" y1="332.3" x2="1744.4" y2="200.0" stroke="#000" stroke-width="2.1" />
<line x1="1586.0" y1="336.0" x2="1747.0" y2="203.5" stroke="#000" stroke-width="1.4" />
<line x1="1606.3" y1="352.5" x2="1807.7" y2="200.0" stroke="#000" stroke-width="1.82" />
<line x1="1541.6" y1="496.0" x2="1562.0" y2="480.0" stroke="#000" stroke-width="1.4" />
<path d="M1571.8,496.3 L1586.2,441.7 L1593.4,431.6" stroke="#000" stroke-width="1.82" fill="none" />
<line x1="1593.4" y1="431.6" x2="1663.8" y2="372.6" stroke="#000" stroke-width="2.68" />
<line x1="1586.2" y1="441.7" x2="1707.0" y2="338.1" stroke="#000" stroke-width="1.68" />
<line x1="1707.0" y1="338.1" x2="1778.9" y2="280.6" stroke="#000" stroke-width="2.68" />
<path d="M1707.0,338.1 L1787.5,276.2 L1842.2,276.2" stroke="#000" stroke-width="1.82" fill="none" />
<line x1="1842.2" y1="276.2" x2="1900.0" y2="228.0" stroke="#000" stroke-width="1.68" />
<line x1="1540.0" y1="520.0" x2="1572.0" y2="494.0" stroke="#000" stroke-width="1.54" />
<path d="M1443.8,247.5 L1473.1,224.4 L1475.0,250.0 L1445.6,265.0 Z" stroke="#000" stroke-width="2.1" fill="#fff" />
<line x1="1445.0" y1="251.0" x2="1474.0" y2="228.0" stroke="#000" stroke-width="1.4" />
<path d="M1612.5,110.4 L1641.9,87.3 L1643.8,112.9 L1614.4,127.9 Z" stroke="#000" stroke-width="2.1" fill="#fff" />
<line x1="1613.8" y1="113.9" x2="1642.8" y2="90.9" stroke="#000" stroke-width="1.4" />
<path d="M1559.0,214.3 L1598.8,181.6 L1659.5,229.4 L1619.8,263.3 Z" stroke="#000" stroke-width="1.96" fill="none" />
<path d="M1567.3,196.6 L1605.6,227.4 L1613.4,217.6 L1575.2,186.8 Z" stroke="#000" stroke-width="1.95" fill="#fff" />
<line x1="1580.7" y1="207.3" x2="1588.5" y2="197.7" stroke="#000" stroke-width="2.2" />
<line x1="1585.7" y1="211.3" x2="1593.5" y2="201.7" stroke="#000" stroke-width="2.2" />
<line x1="1590.7" y1="215.3" x2="1598.5" y2="205.7" stroke="#000" stroke-width="2.2" />
<line x1="1566.0" y1="199.0" x2="1604.0" y2="229.5" stroke="#000" stroke-width="2.93" />
<ellipse cx="1619.5" cy="232" rx="19.5" ry="16" stroke="#000" stroke-width="1.8" fill="#fff"/>
<ellipse cx="1619.5" cy="232" rx="15" ry="13" fill="#000"/>
<ellipse cx="1619.5" cy="232" rx="11" ry="9" stroke="#666" stroke-width="0.8" fill="none"/>
<ellipse cx="1619.5" cy="232" rx="8" ry="5.6" fill="#fff"/>
<path d="M1452.0,288.0 C1451.2,290.0 1447.9,296.3 1447.0,300.0 C1446.1,303.7 1445.9,306.5 1446.6,310.0 C1447.2,313.5 1448.8,317.4 1450.9,320.9 C1453.0,324.4 1454.6,326.6 1459.4,330.8 C1464.2,335.0 1473.2,341.0 1480.0,346.0 C1486.8,351.0 1493.5,356.2 1500.0,361.0 C1506.5,365.8 1512.9,371.6 1518.9,374.8 C1524.9,378.0 1529.5,379.5 1535.9,380.4 C1542.3,381.3 1551.5,380.9 1557.2,380.4 C1562.9,379.9 1566.2,379.0 1570.0,377.6 C1573.8,376.2 1578.3,372.9 1580.0,372.0" stroke="#000" stroke-width="2.1" fill="none" />
<path d="M1466.0,283.0 C1465.8,285.8 1464.2,295.6 1464.5,299.6 C1464.8,303.6 1466.2,304.8 1468.0,307.0 C1469.8,309.2 1469.7,308.3 1475.0,313.0 C1480.3,317.7 1492.5,328.3 1500.0,335.0 C1507.5,341.7 1515.0,348.9 1520.0,353.0 C1525.0,357.1 1526.2,358.1 1530.0,359.5 C1533.8,360.9 1538.7,361.7 1543.0,361.5 C1547.3,361.3 1552.0,360.2 1556.0,358.5 C1560.0,356.8 1563.3,353.9 1567.0,351.0 C1570.7,348.1 1576.2,342.7 1578.0,341.0" stroke="#000" stroke-width="2.1" fill="none" />
<path d="M1476.4,282.0 L1476.4,306.7 L1530.3,352.1 L1557.2,352.1 L1572.8,339.3 L1582.0,331.0" stroke="#000" stroke-width="2.1" fill="none" />
<path d="M1478.4,282.0 L1478.4,305.7 L1531.0,350.0 L1556.5,350.0 L1571.8,337.5 L1581.0,329.5" stroke="#000" stroke-width="1.4" fill="none" />
<line x1="1446.6" y1="316.6" x2="1466.5" y2="311.0" stroke="#000" stroke-width="1.82" />
<line x1="1518.9" y1="374.8" x2="1527.4" y2="359.2" stroke="#000" stroke-width="1.82" />
<line x1="1570.0" y1="377.6" x2="1558.6" y2="357.7" stroke="#000" stroke-width="1.82" />
<path d="M1521.0,377.0 C1520.1,384.3 1518.4,405.1 1515.8,421.0 C1513.2,436.9 1507.6,459.7 1505.4,472.6 C1503.2,485.5 1501.9,492.9 1502.8,498.5 C1503.7,504.1 1509.3,504.9 1510.6,506.2" stroke="#000" stroke-width="1.54" fill="none" />
<path d="M1446.0,296.0 C1443.7,299.7 1436.7,310.7 1432.0,318.0 C1427.3,325.3 1423.0,332.7 1418.0,340.0 C1413.0,347.3 1407.2,355.3 1402.0,362.0 C1396.8,368.7 1391.0,374.8 1386.7,380.0 C1382.4,385.2 1377.8,390.8 1376.0,393.0" stroke="#000" stroke-width="1.82" fill="none" />
<path d="M1415.0,345.0 C1412.5,347.8 1404.5,356.5 1400.0,362.0 C1395.5,367.5 1391.3,373.3 1388.0,378.0 C1384.7,382.7 1381.3,388.0 1380.0,390.0" stroke="#000" stroke-width="1.54" fill="none" />
<path d="M1382.0,388.0 C1381.3,389.3 1377.3,394.0 1378.0,396.0 C1378.7,398.0 1383.2,400.3 1386.0,400.0 C1388.8,399.7 1393.5,395.0 1395.0,394.0" stroke="#000" stroke-width="1.54" fill="none" />
<path d="M1663.9,113.4 C1667.6,112.2 1677.7,106.7 1685.9,106.1 C1694.2,105.5 1704.8,107.3 1713.4,109.8 C1722.0,112.2 1729.7,115.9 1737.3,120.8 C1744.9,125.7 1753.2,133.0 1759.3,139.1 C1765.4,145.2 1769.7,151.1 1774.0,157.5 C1778.3,163.9 1782.5,171.3 1785.0,177.7 C1787.5,184.1 1788.7,190.2 1788.7,196.0 C1788.7,201.8 1785.6,209.8 1785.0,212.5" stroke="#000" stroke-width="1.96" fill="none" />
<path d="M1671.2,122.6 C1673.0,121.1 1676.4,114.9 1682.2,113.4 C1688.0,111.9 1700.3,112.2 1706.1,113.4 C1711.9,114.6 1709.8,114.7 1717.1,120.8 C1724.4,126.9 1742.1,142.2 1750.1,150.1 C1758.0,158.0 1761.4,163.0 1764.8,168.5 C1768.2,174.0 1770.0,179.6 1770.3,183.2 C1770.6,186.8 1767.2,188.9 1766.6,190.0" stroke="#000" stroke-width="1.96" fill="none" />
<path d="M1750.1,128.1 C1756.2,128.4 1774.5,127.5 1786.8,129.9 C1799.0,132.4 1812.9,137.9 1823.6,142.8 C1834.3,147.7 1842.2,153.2 1851.1,159.3 C1860.0,165.4 1872.5,176.1 1876.8,179.5" stroke="#000" stroke-width="1.82" fill="none" />
<path d="M1772.2,157.5 C1775.2,161.2 1783.2,174.6 1790.5,179.5 C1797.8,184.4 1807.6,186.2 1816.2,186.8 C1824.8,187.4 1834.3,185.7 1841.9,183.2 C1849.5,180.7 1858.7,173.9 1862.0,172.0" stroke="#000" stroke-width="1.68" fill="none" />
<path d="M1785.0,212.5 C1787.5,213.6 1793.6,217.4 1800.0,219.0 C1806.4,220.6 1815.3,222.0 1823.6,222.0 C1831.9,222.0 1840.8,221.8 1850.0,219.0 C1859.2,216.2 1873.8,207.5 1878.6,205.2" stroke="#000" stroke-width="1.68" fill="none" />
<path d="M1400.5,322.1 L1660.5,116.1 L1655.5,109.9 L1395.5,315.9 Z" stroke="#000" stroke-width="1.95" fill="#fff" />
<line x1="1398.0" y1="319.0" x2="1658.0" y2="113.0" stroke="#000" stroke-width="1.4" />
<path d="M1391.1,314.3 L1530.7,428.3 L1534.5,423.7 L1394.9,309.7 Z" stroke="#000" stroke-width="1.95" fill="#fff" />
<path d="M1480.1,263.3 L1606.1,364.3 L1609.9,359.7 L1483.9,258.7 Z" stroke="#000" stroke-width="1.95" fill="#fff" />
<path d="M1656.0,114.2 L1777.5,222.2 L1781.5,217.8 L1660.0,109.8 Z" stroke="#000" stroke-width="1.95" fill="#fff" />
<path d="M1709.8,152.4 L1807.1,72.6 L1803.3,68.0 L1706.0,147.8 Z" stroke="#000" stroke-width="1.95" fill="#fff" />
<path d="M1534.5,430.1 L1894.0,142.2 L1889.0,136.0 L1529.5,423.9 Z" stroke="#000" stroke-width="1.95" fill="#fff" />
<line x1="1532.0" y1="427.0" x2="1891.5" y2="139.1" stroke="#000" stroke-width="1.4" />
<path d="M1528.3,428.1 L1531.2,506.1 L1537.6,505.9 L1534.7,427.9 Z" stroke="#000" stroke-width="1.95" fill="#fff" />
<circle cx="1534.4" cy="510.0" r="4.5" stroke="#000" stroke-width="1.95" fill="#000"/>
<path d="M1798.2,71.0 L1798.2,148.0 L1804.8,148.0 L1804.8,71.0 Z" stroke="#000" stroke-width="1.95" fill="#fff" />
<circle cx="1801.5" cy="152.0" r="4.5" stroke="#000" stroke-width="1.95" fill="#000"/>
<path d="M1880.9,142.9 L1882.8,221.7 L1889.2,221.5 L1887.3,142.7 Z" stroke="#000" stroke-width="1.95" fill="#fff" />
<circle cx="1886.0" cy="225.6" r="4.5" stroke="#000" stroke-width="1.95" fill="#000"/>
<path d="M1779.5,150.1 L1794.2,131.8 L1823.6,148.3 L1812.5,166.6 Z" stroke="#000" stroke-width="1.96" fill="#fff" />
<circle cx="1801.5" cy="151.0" r="4.8" stroke="#000" stroke-width="1.95" fill="#000"/>
<path d="M1417.6,293.6 L1418.6,309.6 L1422.6,309.4 L1421.6,293.4 Z" stroke="#000" stroke-width="1.82" fill="#fff" />
<ellipse cx="1419.6" cy="287.5" rx="10.3" ry="7.8" stroke="#000" stroke-width="1.7" fill="#fff"/>
<circle cx="1415.6" cy="284.9" r="1.6" stroke="#000" stroke-width="0" fill="#000"/>
<circle cx="1423.6" cy="284.9" r="1.6" stroke="#000" stroke-width="0" fill="#000"/>
<circle cx="1415.6" cy="290.1" r="1.6" stroke="#000" stroke-width="0" fill="#000"/>
<circle cx="1423.6" cy="290.1" r="1.6" stroke="#000" stroke-width="0" fill="#000"/>
<path d="M1581.1,158.7 L1582.1,177.7 L1586.1,177.5 L1585.1,158.5 Z" stroke="#000" stroke-width="1.82" fill="#fff" />
<ellipse cx="1583.1" cy="152.6" rx="10.3" ry="7.8" stroke="#000" stroke-width="1.7" fill="#fff"/>
<circle cx="1579.1" cy="150.0" r="1.6" stroke="#000" stroke-width="0" fill="#000"/>
<circle cx="1587.1" cy="150.0" r="1.6" stroke="#000" stroke-width="0" fill="#000"/>
<circle cx="1579.1" cy="155.2" r="1.6" stroke="#000" stroke-width="0" fill="#000"/>
<circle cx="1587.1" cy="155.2" r="1.6" stroke="#000" stroke-width="0" fill="#000"/>
<path d="M1784.8,66.3 L1785.8,85.3 L1789.8,85.1 L1788.8,66.1 Z" stroke="#000" stroke-width="1.82" fill="#fff" />
<ellipse cx="1786.8" cy="60.2" rx="10.3" ry="7.8" stroke="#000" stroke-width="1.7" fill="#fff"/>
<circle cx="1782.8" cy="57.6" r="1.6" stroke="#000" stroke-width="0" fill="#000"/>
<circle cx="1790.8" cy="57.6" r="1.6" stroke="#000" stroke-width="0" fill="#000"/>
<circle cx="1782.8" cy="62.8" r="1.6" stroke="#000" stroke-width="0" fill="#000"/>
<circle cx="1790.8" cy="62.8" r="1.6" stroke="#000" stroke-width="0" fill="#000"/>
<path d="M1869.3,136.1 L1870.3,155.1 L1874.3,154.9 L1873.3,135.9 Z" stroke="#000" stroke-width="1.82" fill="#fff" />
<ellipse cx="1871.3" cy="130.0" rx="10.3" ry="7.8" stroke="#000" stroke-width="1.7" fill="#fff"/>
<circle cx="1867.3" cy="127.4" r="1.6" stroke="#000" stroke-width="0" fill="#000"/>
<circle cx="1875.3" cy="127.4" r="1.6" stroke="#000" stroke-width="0" fill="#000"/>
<circle cx="1867.3" cy="132.6" r="1.6" stroke="#000" stroke-width="0" fill="#000"/>
<circle cx="1875.3" cy="132.6" r="1.6" stroke="#000" stroke-width="0" fill="#000"/>
<path d="M1704.9,267.1 L1705.9,286.1 L1709.9,285.9 L1708.9,266.9 Z" stroke="#000" stroke-width="1.82" fill="#fff" />
<ellipse cx="1706.9" cy="261.0" rx="10.3" ry="7.8" stroke="#000" stroke-width="1.7" fill="#fff"/>
<circle cx="1702.9" cy="258.4" r="1.6" stroke="#000" stroke-width="0" fill="#000"/>
<circle cx="1710.9" cy="258.4" r="1.6" stroke="#000" stroke-width="0" fill="#000"/>
<circle cx="1702.9" cy="263.6" r="1.6" stroke="#000" stroke-width="0" fill="#000"/>
<circle cx="1710.9" cy="263.6" r="1.6" stroke="#000" stroke-width="0" fill="#000"/>
<path d="M1545.8,399.7 L1546.8,418.7 L1550.8,418.5 L1549.8,399.5 Z" stroke="#000" stroke-width="1.82" fill="#fff" />
<ellipse cx="1547.8" cy="393.6" rx="10.3" ry="7.8" stroke="#000" stroke-width="1.7" fill="#fff"/>
<circle cx="1543.8" cy="391.0" r="1.6" stroke="#000" stroke-width="0" fill="#000"/>
<circle cx="1551.8" cy="391.0" r="1.6" stroke="#000" stroke-width="0" fill="#000"/>
<circle cx="1543.8" cy="396.2" r="1.6" stroke="#000" stroke-width="0" fill="#000"/>
<circle cx="1551.8" cy="396.2" r="1.6" stroke="#000" stroke-width="0" fill="#000"/>
<circle cx="1574.0" cy="176.0" r="3.5" stroke="#000" stroke-width="2.68" fill="none"/>
<circle cx="1898.8" cy="128.8" r="3.8" stroke="#000" stroke-width="0" fill="#000"/>
<path d="M1363,876.2 L1751.5,560.5 L1771.7,580 C1808,606 1859.5,645 1859.5,705 Q1859.5,722 1856.5,736" stroke="#000" stroke-width="3.0" fill="none" />
<path d="M1860.0,712.0 C1859.3,716.3 1858.3,730.0 1856.0,738.0 C1853.7,746.0 1850.3,753.5 1846.0,760.0 C1841.7,766.5 1835.7,772.5 1830.0,777.0 C1824.3,781.5 1815.0,785.3 1812.0,787.0" stroke="#000" stroke-width="2.1" fill="none" />
<path d="M1857.0,710.0 C1856.2,714.2 1854.5,727.5 1852.0,735.0 C1849.5,742.5 1846.2,748.8 1842.0,755.0 C1837.8,761.2 1832.7,767.3 1827.0,772.0 C1821.3,776.7 1811.2,781.2 1808.0,783.0" stroke="#000" stroke-width="1.4" fill="none" />
<line x1="1363.0" y1="876.2" x2="1363.0" y2="883.6" stroke="#000" stroke-width="1.95" />
<line x1="1363.0" y1="878.7" x2="1534.7" y2="1011.9" stroke="#000" stroke-width="1.96" />
<line x1="1363.0" y1="883.6" x2="1534.7" y2="1016.7" stroke="#000" stroke-width="1.95" />
<line x1="1534.7" y1="1016.7" x2="1812.0" y2="787.0" stroke="#000" stroke-width="2.2" />
<line x1="1533.0" y1="1011.5" x2="1810.0" y2="782.5" stroke="#000" stroke-width="1.68" />
<line x1="1531.0" y1="1008.0" x2="1806.0" y2="779.0" stroke="#000" stroke-width="1.4" />
<line x1="1528.3" y1="1003.0" x2="1800.0" y2="776.0" stroke="#000" stroke-width="1.4" />
<line x1="1398.5" y1="886.5" x2="1771.0" y2="584.0" stroke="#000" stroke-width="3.0" />
<path d="M1397.7,885.5 C1397.4,886.2 1395.6,888.5 1396.0,890.0 C1396.4,891.5 1399.3,894.0 1400.0,894.8" stroke="#000" stroke-width="1.82" fill="none" />
<line x1="1400.0" y1="894.8" x2="1528.3" y2="1000.7" stroke="#000" stroke-width="1.82" />
<line x1="1534.7" y1="1016.7" x2="1526.7" y2="1119.4" stroke="#000" stroke-width="1.95" />
<line x1="1521.9" y1="1016.7" x2="1518.7" y2="1117.8" stroke="#000" stroke-width="1.82" />
<line x1="1518.7" y1="1117.8" x2="1526.7" y2="1119.4" stroke="#000" stroke-width="1.82" />
<line x1="1526.7" y1="1119.4" x2="1806.1" y2="904.2" stroke="#000" stroke-width="1.95" />
<path d="M1860.0,712.0 C1859.5,720.0 1858.2,744.5 1857.2,760.0 C1856.2,775.5 1855.7,792.0 1854.2,805.0 C1852.7,818.0 1851.2,827.5 1848.2,838.0 C1845.2,848.5 1840.2,860.0 1836.2,868.0 C1832.2,876.0 1829.1,880.0 1824.1,886.0 C1819.1,892.0 1809.1,901.2 1806.1,904.2" stroke="#000" stroke-width="2.1" fill="none" />
<line x1="1815.1" y1="790.2" x2="1807.6" y2="892.2" stroke="#000" stroke-width="1.82" />
<rect x="1520.5" y="1094.0" width="2.5" height="10.0" rx="0" stroke="#000" stroke-width="1.4" fill="none"/>
<line x1="1469.2" y1="918.2" x2="1673.5" y2="752.4" stroke="#000" stroke-width="1.96" />
<line x1="1482.0" y1="936.8" x2="1685.2" y2="772.2" stroke="#000" stroke-width="1.96" />
<line x1="1545.0" y1="997.5" x2="1772.7" y2="808.4" stroke="#000" stroke-width="1.96" />
<line x1="1403.0" y1="886.8" x2="1469.2" y2="918.2" stroke="#000" stroke-width="1.82" />
<path d="M1469.2,918.2 C1467.8,920.2 1462.7,925.4 1461.0,930.0 C1459.3,934.6 1459.3,940.7 1459.3,946.0 C1459.3,951.3 1460.7,959.3 1461.0,962.0" stroke="#000" stroke-width="1.82" fill="none" />
<path d="M1469.2,918.2 C1470.0,919.8 1471.9,924.9 1474.0,928.0 C1476.1,931.1 1480.7,935.3 1482.0,936.8" stroke="#000" stroke-width="1.82" fill="none" />
<path d="M1482.0,936.8 C1481.3,938.7 1478.2,943.8 1478.0,948.0 C1477.8,952.2 1478.7,957.5 1481.0,962.0 C1483.3,966.5 1486.8,970.3 1492.0,975.0 C1497.2,979.7 1503.2,986.2 1512.0,990.0 C1520.8,993.8 1539.5,996.2 1545.0,997.5" stroke="#000" stroke-width="1.96" fill="none" />
<path d="M1673.5,752.4 C1677.4,750.8 1689.8,744.2 1696.8,742.6 C1703.8,741.0 1709.8,742.1 1715.5,743.0 C1721.2,743.9 1724.1,744.2 1730.7,747.7 C1737.3,751.2 1747.6,759.0 1755.2,764.0 C1762.8,769.0 1770.4,772.9 1776.2,778.0 C1782.0,783.1 1787.9,791.7 1790.2,794.4" stroke="#000" stroke-width="1.96" fill="none" />
<path d="M1685.2,772.2 C1688.3,770.8 1698.0,765.0 1703.8,764.0 C1709.6,763.0 1713.6,764.1 1720.2,766.4 C1726.8,768.7 1736.5,773.3 1743.5,778.0 C1750.5,782.7 1757.3,789.3 1762.2,794.4 C1767.1,799.5 1771.0,806.1 1772.7,808.4" stroke="#000" stroke-width="1.96" fill="none" />
<path d="M1771.0,581.0 C1766.7,584.8 1751.3,598.3 1745.0,604.0 C1738.7,609.7 1737.5,610.2 1733.3,615.0 C1729.1,619.8 1723.9,626.6 1720.0,633.0 C1716.1,639.4 1715.0,642.4 1710.0,653.3 C1705.0,664.2 1696.1,681.8 1690.0,698.3 C1683.9,714.8 1676.2,743.4 1673.5,752.4" stroke="#000" stroke-width="1.96" fill="none" />
<path d="M1770.1,580.0 C1768.6,583.5 1765.1,593.0 1761.1,601.0 C1757.1,609.0 1750.1,619.0 1746.1,628.0 C1742.1,637.0 1739.5,646.3 1737.1,655.0 C1734.7,663.7 1732.8,670.0 1731.9,680.0 C1731.0,690.0 1732.1,703.7 1731.9,715.0 C1731.7,726.3 1730.9,742.2 1730.7,747.7" stroke="#000" stroke-width="1.96" fill="none" />
<path d="M1673.5,752.4 C1674.1,754.3 1675.0,760.7 1677.0,764.0 C1679.0,767.3 1683.8,770.8 1685.2,772.2" stroke="#000" stroke-width="1.82" fill="none" />
<path d="M1730.7,747.7 C1730.1,749.8 1728.6,756.7 1727.0,760.0 C1725.4,763.3 1722.2,766.3 1721.3,767.6" stroke="#000" stroke-width="1.82" fill="none" />
<path d="M1856.0,703.0 C1852.7,705.5 1842.5,711.5 1836.2,718.0 C1829.9,724.5 1823.6,734.0 1818.1,742.0 C1812.6,750.0 1806.6,758.5 1803.1,766.0 C1799.6,773.5 1798.1,783.5 1797.1,787.0" stroke="#000" stroke-width="1.96" fill="none" />
<path d="M1824.0,760.0 C1822.5,761.7 1818.0,766.3 1815.0,770.0 C1812.0,773.7 1807.5,780.0 1806.0,782.0" stroke="#000" stroke-width="1.4" fill="none" />
<ellipse cx="1631.5" cy="890.1" rx="13" ry="10.7" stroke="#000" stroke-width="3" fill="#fff"/>
<ellipse cx="1631.5" cy="890.1" rx="7.5" ry="6" stroke="#000" stroke-width="1.3" fill="none"/>
<line x1="1382.3" y1="901.2" x2="1383.9" y2="965.4" stroke="#000" stroke-width="1.96" />
<line x1="1390.3" y1="901.2" x2="1391.9" y2="965.4" stroke="#000" stroke-width="1.96" />
<line x1="1383.9" y1="965.4" x2="1391.9" y2="965.4" stroke="#000" stroke-width="1.68" />
<path d="M1389.6,966.8 L1520.5,1070.8 L1523.3,1067.2 L1392.4,963.2 Z" stroke="#000" stroke-width="1.96" fill="#fff" />
<path d="M1392.3,962.5 L1426.9,933.8 L1424.3,930.8 L1389.7,959.5 Z" stroke="#000" stroke-width="1.82" fill="#fff" />
<circle cx="1393.5" cy="981.4" r="4.0" stroke="#000" stroke-width="2.1" fill="#fff"/>
<circle cx="1401.5" cy="946.1" r="2.8" stroke="#000" stroke-width="1.82" fill="#fff"/>
<circle cx="1512.3" cy="1076.0" r="3.5" stroke="#000" stroke-width="1.96" fill="#fff"/>
<line x1="1393.5" y1="972.0" x2="1393.5" y2="978.0" stroke="#000" stroke-width="1.68" />
</svg></body></html>
